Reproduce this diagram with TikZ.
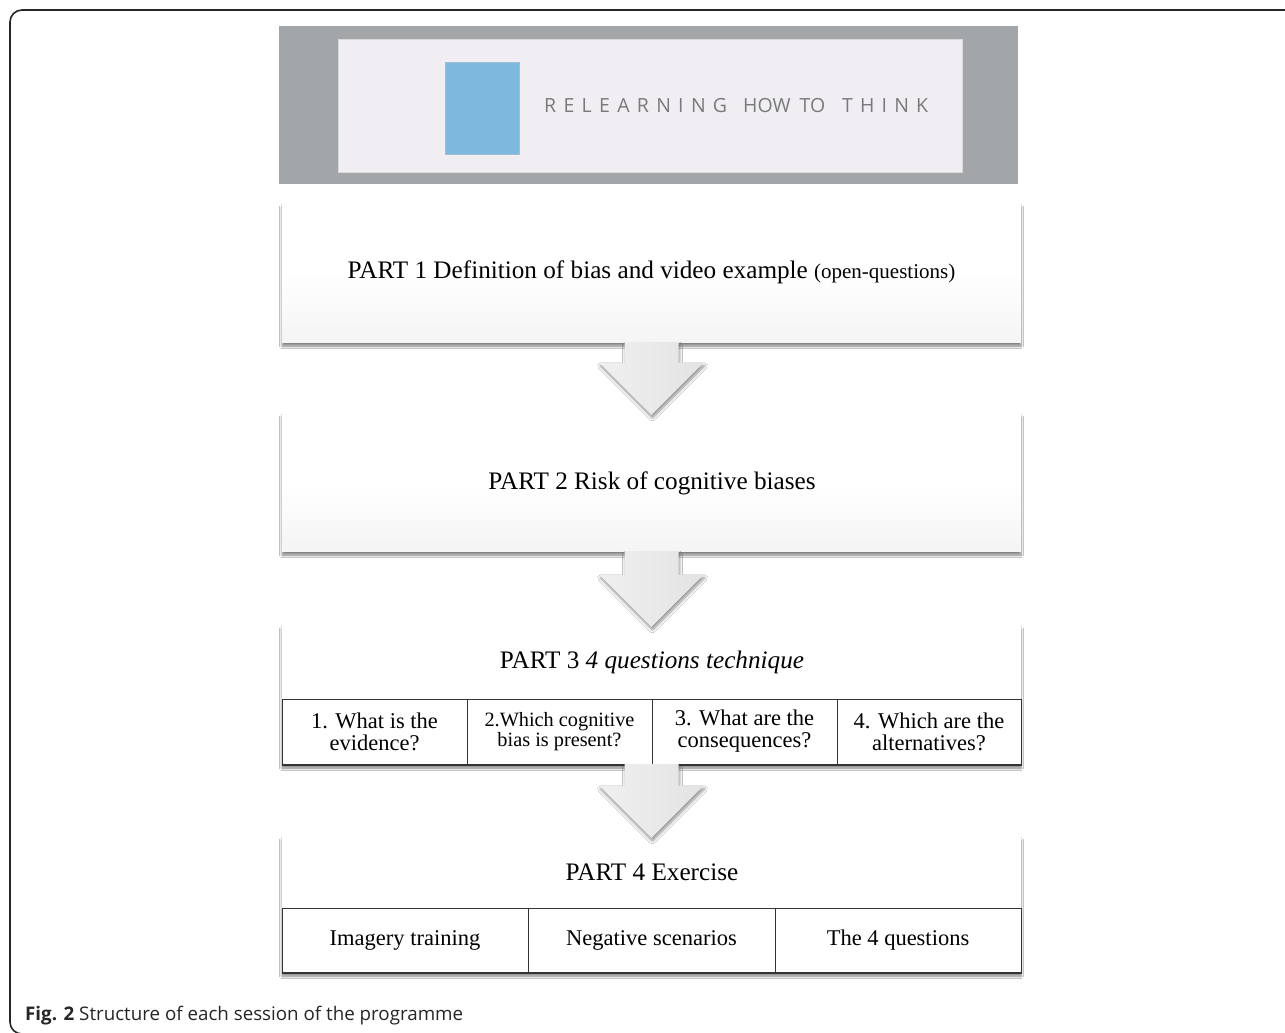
\documentclass[tikz,border=0pt]{standalone}
\usepackage{fontspec}
\setmainfont{Liberation Serif}
\newfontfamily\bannerfont{Open Sans}
\newfontfamily\capfont{Open Sans}
\usetikzlibrary{shadows.blur,calc}
\definecolor{bannergray}{HTML}{A3A6A8}
\definecolor{bannerin}{HTML}{F0EEF3}
\definecolor{bannerblue}{HTML}{7DB9DF}
\definecolor{bannertext}{HTML}{7A7A7C}
\definecolor{cellline}{HTML}{333333}
\tikzset{
  partbox/.style={minimum width=739pt, inner sep=0pt, top color=white, bottom color=black!4, middle color=white,
    blur shadow={shadow xshift=0pt, shadow yshift=-4pt, shadow blur steps=6, shadow blur radius=2.5pt, shadow opacity=50},
    font=\fontsize{25.2}{28}\selectfont},
  celltext/.style={draw=cellline, line width=1pt, inner sep=0pt, align=center, fill=white, font=\fontsize{22.5}{25}\selectfont},
  blockarrow/.style={left color=black!6, right color=black!11, draw=none,
    blur shadow={shadow xshift=1pt, shadow yshift=-3pt, shadow blur steps=6, shadow blur radius=3pt, shadow opacity=45}},
  title/.style={inner sep=0pt, font=\fontsize{25.2}{28}\selectfont},
  bannerword/.style={anchor=west, inner sep=0pt, text=bannertext, font=\bannerfont\fontsize{19.5}{22}\selectfont}
}
\newcommand{\blockarr}[2]{%
  \path[blockarrow] ($(#1.south)+(-27,0)$) -- ($(#1.south)+(27,0)$) -- ($(#2.north)+(27,-50)$)
   -- ($(#2.north)+(52,-50)$) -- ($(#2.north)+(0,2)$) -- ($(#2.north)+(-52,-50)$) -- ($(#2.north)+(-27,-50)$) -- cycle;}
\begin{document}
\begin{tikzpicture}[x=1pt,y=-1pt]
\useasboundingbox (0,0) rectangle (1285,1033);
\fill[white] (0,0) rectangle (1285,1033);
% outer frame
\draw[line width=1.6pt, black!85, rounded corners=12pt] (10,10) rectangle (1310,1034);

% banner
\node[fill=bannergray, minimum width=739pt, minimum height=158pt, inner sep=0pt] (banner) at (648.5,105) {};
\node[fill=bannerin, draw=black!15, line width=0.5pt, minimum width=624pt, minimum height=133pt, inner sep=0pt] (bannerin) at (650,105.5) {};
\node[fill=bannerblue, draw=bannerblue!80!black!60, line width=0.4pt, minimum width=74pt, minimum height=92pt, inner sep=0pt] (logo) at (482,108) {};
\node[bannerword] (w1) at (544,106) {\makebox[183pt][s]{R\hfill E\hfill L\hfill E\hfill A\hfill R\hfill N\hfill I\hfill N\hfill G}};
\node[bannerword] (w2) at (743,106) {\makebox[82pt][s]{HOW\hfill TO}};
\node[bannerword] (w3) at (842,106) {\makebox[86pt][s]{T\hfill H\hfill I\hfill N\hfill K}};

% part boxes
\node[partbox, minimum height=139pt] (p1) at (651.5,272.5)
  {PART 1 Definition of bias and video example {\fontsize{21}{24}\selectfont(open-questions)}};
\node[partbox, minimum height=138pt] (p2) at (651.5,482) {};
\node[partbox, minimum height=139pt] (p3) at (651.5,694.5) {};
\node[partbox, minimum height=136pt] (p4) at (651.5,904) {};

\node[title] (t2) at (652,483.5) {PART 2 Risk of cognitive biases};
\node[title] (t3) at (652,662.5) {PART 3 \textit{4 questions technique}};
\node[title] (t4) at (652,872.5) {PART 4 Exercise};

% part 3 cells
\node[celltext, minimum width=185pt, minimum height=65pt] (q1) at (374.5,731.5) {1. What is the\\[-3pt]evidence?};
\node[celltext, minimum width=185pt, minimum height=65pt, font=\fontsize{20.3}{22}\selectfont] (q2) at (559.5,731.5) {2.Which cognitive\\[-2pt]bias is present?};
\node[celltext, minimum width=185pt, minimum height=65pt] (q3) at (744.5,731.5) {3. What are the\\[-3pt]consequences?};
\node[celltext, minimum width=184pt, minimum height=65pt] (q4) at (929,731.5) {4. Which are the\\[-3pt]alternatives?};
\draw[cellline, line width=2pt] (q1.south west) -- (q4.south east);

% part 4 cells
\node[celltext, minimum width=246pt, minimum height=64pt] (e1) at (405,940) {Imagery training};
\node[celltext, minimum width=247pt, minimum height=64pt] (e2) at (651.5,940) {Negative scenarios};
\node[celltext, minimum width=246pt, minimum height=64pt] (e3) at (898,940) {The 4 questions};
\draw[cellline, line width=2pt] (e1.south west) -- (e3.south east);

% block arrows
\blockarr{p1}{p2}
\blockarr{p2}{p3}
\blockarr{p3}{p4}

% caption
\node[anchor=west, inner sep=0pt, font=\capfont\fontsize{18.75}{22}\selectfont, text=black!85] (cap) at (25,1016)
  {\textbf{Fig. 2} Structure of each session of the programme};
\end{tikzpicture}
\end{document}
